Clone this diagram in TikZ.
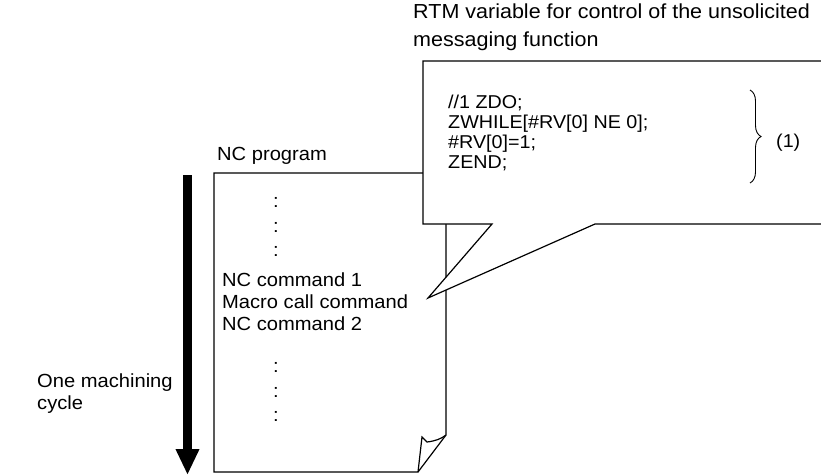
\documentclass[tikz,border=0pt]{standalone}
\usepackage{fontspec}
\setmainfont[FakeStretch=1.06]{Liberation Sans}
\usetikzlibrary{arrows.meta,decorations.pathreplacing}
\tikzset{
  txt/.style={anchor=base west,inner sep=0pt,font=\fontsize{19}{22}\selectfont},
  codetxt/.style={txt,font=\fontsize{18.6}{22}\selectfont},
  bigtxt/.style={txt,font=\fontsize{20.3}{22}\selectfont},
  dotsym/.style={anchor=base,inner sep=0pt,font=\fontsize{19}{22}\selectfont},
  outline/.style={draw=black,line width=1.2pt,line join=miter},
}
\begin{document}
\begin{tikzpicture}[x=1pt,y=-1pt]
\useasboundingbox (0,0) rectangle (821,475);
% labels outside
\node[bigtxt] (rtm1) at (413,18) {RTM variable for control of the unsolicited};
\node[bigtxt] (rtm2) at (413,46) {messaging function};
\node[txt] (ncprog) at (217,160) {NC program};
\node[txt] (cyc1) at (37,387) {One machining};
\node[txt] (cyc2) at (37,409) {cycle};
% page
\draw[outline,fill=white] (214,173) -- (446,173) -- (446,435) -- (418,472) -- (214,472) -- cycle;
\draw[outline] (418,472) -- (422,437) -- (427,442) .. controls (435,441) and (441,439) .. (446,435);
% page contents
\node[dotsym] (d1) at (276,207) {:};
\node[dotsym] (d2) at (276,232) {:};
\node[dotsym] (d3) at (276,256) {:};
\node[txt] (nc1) at (222,286) {NC command 1};
\node[txt] (macro) at (222,308) {Macro call command};
\node[txt] (nc2) at (222,330) {NC command 2};
\node[dotsym] (d4) at (276,372) {:};
\node[dotsym] (d5) at (276,397) {:};
\node[dotsym] (d6) at (276,421) {:};
% callout
\coordinate (tip) at (428,298);
\draw[outline,fill=white] (423,61) -- (823,61) -- (823,224) -- (595,224) -- (tip) -- (492,224) -- (423,224) -- cycle;
\node[codetxt] (l1) at (448,108) {//1 ZDO;};
\node[codetxt] (l2) at (448,128) {ZWHILE[\#RV[0] NE 0];};
\node[codetxt] (l3) at (448,148) {\#RV[0]=1;};
\node[codetxt] (l4) at (448,168) {ZEND;};
\coordinate (bt) at (750,90);
\coordinate (bb) at (750,183);
\draw[line width=0.9pt,decorate,decoration={brace,amplitude=11pt}] (bt) -- (bb);
\node[codetxt] (one) at (776,147) {(1)};
% arrow
\coordinate (atop) at (187.5,175);
\coordinate (abot) at (187.5,475);
\draw[line width=9pt,-{Triangle[width=22pt,length=26pt]}] (atop) -- (abot);
\end{tikzpicture}
\end{document}
